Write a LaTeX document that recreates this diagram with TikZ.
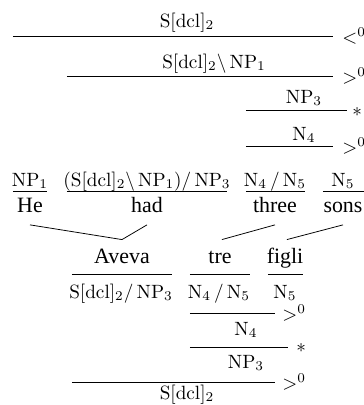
\documentclass[tikz,border=0pt]{standalone}
\usepackage{fontspec}
\newfontfamily\wordfont{Liberation Serif}
\begin{document}
\begin{tikzpicture}[x=0.5208pt, y=-0.5208pt,
  rule/.style={line width=0.45pt},
  link/.style={line width=0.4pt},
  cat/.style={anchor=base, inner sep=0pt, font=\fontsize{10}{12}\selectfont},
  word/.style={anchor=base, font=\wordfont\fontsize{11.4}{13.5}\selectfont,
    text height=8pt, text depth=2.5pt, inner xsep=0pt, inner ysep=4pt},
  rulelab/.style={anchor=base west, inner sep=0pt, font=\fontsize{10}{12}\selectfont}]
\useasboundingbox (0,0) rectangle (364,405);
\clip (0,0) rectangle (364,405);

% --- English derivation (upper half) ---
\node[cat] (s2)    at (187,27)  {$\mathrm{S[dcl]_2}$};
\node[cat] (vp)    at (214,68)  {$\mathrm{S[dcl]_2}\backslash\,\mathrm{NP_1}$};
\node[cat] (np3)   at (304,103) {$\mathrm{NP_3}$};
\node[cat] (n4)    at (304,140) {$\mathrm{N_4}$};

\node[cat] (c-he)    at (30,186)  {$\mathrm{NP_1}$};
\node[cat] (c-had)   at (147,186) {$(\mathrm{S[dcl]_2}\backslash\,\mathrm{NP_1})/\,\mathrm{NP_3}$};
\node[cat] (c-three) at (275,186) {$\mathrm{N_4}\,/\,\mathrm{N_5}$};
\node[cat] (c-sons)  at (343,186) {$\mathrm{N_5}$};

\node[word] (he)    at (30,212)  {He};
\node[word] (had)   at (147,212) {had};
\node[word] (three) at (275,212) {three};
\node[word] (sons)  at (343,212) {sons};

% --- Italian derivation (lower half) ---
\node[word] (aveva) at (122,263) {Aveva};
\node[word] (tre)   at (220,263) {tre};
\node[word] (figli) at (285,263) {figli};

\node[cat] (c-aveva) at (121,298) {$\mathrm{S[dcl]_2}/\,\mathrm{NP_3}$};
\node[cat] (c-tre)   at (219,298) {$\mathrm{N_4}\,/\,\mathrm{N_5}$};
\node[cat] (c-figli) at (285,298) {$\mathrm{N_5}$};

\node[cat] (it-n4)  at (246,335) {$\mathrm{N_4}$};
\node[cat] (it-np3) at (246,368) {$\mathrm{NP_3}$};
\node[cat] (it-s2)  at (187,399) {$\mathrm{S[dcl]_2}$};

% combination rules: name / left end / right end / height
\foreach \n/\a/\b/\y in {
    r1/13/333/36, r2/67/333/76, r3/246/347/110, r4/246/333/146,
    w1/13/47/191, w2/67/227/191, w3/246/305/191, w4/323/364/191,
    v1/72/172/274, v2/190/250/274, v3/268/303/274,
    r5/190/275/313, r6/190/288/347, r7/72/275/382}
  {\coordinate (\n a) at (\a,\y);
   \coordinate (\n b) at (\b,\y);
   \draw[rule] (\n a) -- (\n b);}

% rule names
\node[rulelab] (l1) at (342,43)  {$<^0$};
\node[rulelab] (l2) at (342,83)  {$>^0$};
\node[rulelab] (l3) at (352,116) {$*$};
\node[rulelab] (l4) at (342,153) {$>^0$};
\node[rulelab] (l5) at (282,320) {$>^0$};
\node[rulelab] (l6) at (296,352) {$*$};
\node[rulelab] (l7) at (282,389) {$>^0$};

% word alignment links
\draw[link] (he.south)    -- (aveva.north);
\draw[link] (had.south)   -- (aveva.north);
\draw[link] (three.south) -- ([xshift=1pt]tre.north);
\draw[link] (sons.south)  -- ([xshift=1pt]figli.north);
\end{tikzpicture}
\end{document}
